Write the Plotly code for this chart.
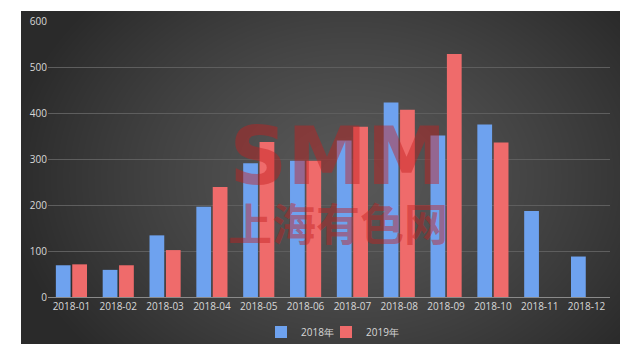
import base64, struct, zlib
import numpy as np
import plotly.graph_objects as go

categories = ["2018-01", "2018-02", "2018-03", "2018-04", "2018-05", "2018-06",
              "2018-07", "2018-08", "2018-09", "2018-10", "2018-11", "2018-12"]
values_2018 = [69, 59, 134, 196, 291, 296, 340, 423, 351, 375, 187, 88]
values_2019 = [71, 69, 102, 239, 337, 296, 370, 407, 528, 336, None, None]
series_names = ["2018年", "2019年"]
y_ticks = [0, 100, 200, 300, 400, 500, 600]

W, H = 637, 356
PL, PR, PT, PB = 48, 27, 21, 59
pw, ph = W - PL - PR, H - PT - PB


def make_png(arr):
    h, w, _ = arr.shape
    raw = b"".join(b"\x00" + arr[i].tobytes() for i in range(h))

    def chunk(t, d):
        c = struct.pack(">I", len(d)) + t + d
        return c + struct.pack(">I", zlib.crc32(t + d) & 0xffffffff)

    return (b"\x89PNG\r\n\x1a\n"
            + chunk(b"IHDR", struct.pack(">IIBBBBB", w, h, 8, 2, 0, 0, 0))
            + chunk(b"IDAT", zlib.compress(raw, 9))
            + chunk(b"IEND", b""))


# dark panel with soft radial highlight
bx0, by0, bx1, by1 = 21, 11, 620, 344
bw, bh = bx1 - bx0, by1 - by0
yy, xx = np.mgrid[0:bh, 0:bw]
cx, cy = bw * 0.55, bh * 0.5
d = np.sqrt(((xx - cx) / (bw * 0.58)) ** 2 + ((yy - cy) / (bh * 0.8)) ** 2)
v = 88 - 46 * np.clip(d, 0, 1) ** 1.3
img = np.stack([v, v, v], axis=-1).clip(0, 255).astype(np.uint8)
src = "data:image/png;base64," + base64.b64encode(make_png(img)).decode()

fig = go.Figure()
fig.add_trace(go.Bar(x=categories, y=values_2018, name=series_names[0],
                     marker=dict(color="#6ea2ef", line=dict(width=0))))
fig.add_trace(go.Bar(x=categories, y=values_2019, name=series_names[1],
                     marker=dict(color="#ef6b6b", line=dict(width=0))))
# empty spacer legend entry (not a bar, so grouping is unaffected)
fig.add_trace(go.Scatter(x=[None], y=[None], name=" ", mode="markers",
                         hoverinfo="skip",
                         marker=dict(color="rgba(0,0,0,0)", size=1)))

fig.add_layout_image(dict(
    source=src, xref="paper", yref="paper",
    x=(bx0 - PL) / pw, y=(H - PB - by0) / ph,
    sizex=bw / pw, sizey=bh / ph,
    sizing="stretch", xanchor="left", yanchor="top", layer="below"))

# watermark (one text block: logo letters over the Chinese name)
fig.add_annotation(
    text="<b><span style='font-size:80px'>SMM</span><br>上海有色网</b>",
    xref="paper", yref="paper",
    x=(338 - PL) / pw, y=(H - PB - 180) / ph, showarrow=False,
    yanchor="middle", align="center",
    font=dict(size=44, color="rgba(195,30,30,0.45)",
              family="DejaVu Sans, Noto Sans CJK SC"))

fig.update_layout(
    width=W, height=H,
    margin=dict(l=PL, r=PR, t=PT, b=PB, autoexpand=False),
    paper_bgcolor="white", plot_bgcolor="rgba(0,0,0,0)",
    barmode="group", bargap=0.3, bargroupgap=0.1,
    font=dict(family="Open Sans, DejaVu Sans", size=10, color="#d8d8d8"),
    showlegend=True,
    legend=dict(orientation="h", x=(283 - 22) / W, xanchor="left", xref="container",
                y=1 - 332 / H, yanchor="middle", yref="container",
                font=dict(size=10, color="#d8d8d8"), bgcolor="rgba(0,0,0,0)",
                itemwidth=30, entrywidth=20),
)
fig.update_xaxes(type="category", showgrid=False, showline=True, linecolor="#8a8a8a",
                 linewidth=1, ticks="", automargin=False,
                 tickfont=dict(size=10, color="#d8d8d8"))
fig.update_yaxes(range=[0, 600], tickvals=y_ticks, showgrid=True,
                 gridcolor="#5e5e5e", gridwidth=1, zeroline=False, automargin=False,
                 ticks="", tickfont=dict(size=10, color="#d8d8d8"))

fig.write_html("out.html", config={"displayModeBar": False},
               post_script="document.body.style.margin='0';document.body.style.padding='0';")
